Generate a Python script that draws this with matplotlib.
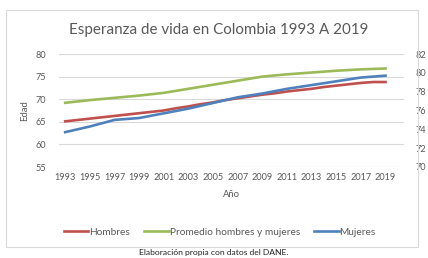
import numpy as np
import matplotlib
matplotlib.use('Agg')
import matplotlib.pyplot as plt
from matplotlib.patches import Rectangle

# DATOS
anios = list(range(1993, 2020))
hombres = [65.1, 65.4, 65.7, 66.0, 66.3, 66.6, 66.9, 67.2, 67.5, 68.0,
           68.4, 68.9, 69.3, 69.8, 70.2, 70.6, 71.0, 71.3, 71.7, 72.0,
           72.3, 72.7, 73.0, 73.3, 73.6, 73.8, 73.8]
promedio = [69.2, 69.5, 69.8, 70.05, 70.3, 70.55, 70.8, 71.1, 71.4, 71.85,
            72.3, 72.75, 73.2, 73.65, 74.1, 74.55, 75.0, 75.25, 75.5, 75.7,
            75.9, 76.1, 76.3, 76.45, 76.6, 76.7, 76.8]
mujeres = [73.7, 74.0, 74.3, 74.65, 75.0, 75.1, 75.2, 75.45, 75.7, 75.95,
           76.2, 76.5, 76.8, 77.1, 77.4, 77.6, 77.8, 78.05, 78.3, 78.5,
           78.7, 78.9, 79.1, 79.3, 79.5, 79.6, 79.7]
ticks_x = anios[::2]

ROJO = '#C0504D'
VERDE = '#9BBB59'
AZUL = '#4F81BD'
GRIS = '#595959'

plt.rcParams['font.family'] = ['Lato', 'DejaVu Sans']

fig = plt.figure(figsize=(4.28, 2.58), dpi=100)
W, H = 428, 258

# marco del grafico
fig.patches.append(Rectangle((6 / W, 1 - 247 / H), 412 / W, 237 / H,
                             transform=fig.transFigure, fill=False,
                             edgecolor='#D9D9D9', lw=0.8))

ax = fig.add_axes([59 / W, 1 - 167 / H, 345 / W, 113 / H])
ax2 = ax.twinx()

l1, = ax.plot(anios, hombres, color=ROJO, lw=1.9, label='Hombres')
l2, = ax.plot(anios, promedio, color=VERDE, lw=1.9, label='Promedio hombres y mujeres')
l3, = ax2.plot(anios, mujeres, color=AZUL, lw=1.9, label='Mujeres')

ax.set_xlim(1992.5, 2020.5)
ax.set_ylim(55, 80)
ax.set_yticks([55, 60, 65, 70, 75, 80])
ax2.set_ylim(70, 82)
ax2.set_yticks([70, 72, 74, 76, 78, 80, 82])
ax.set_xticks(ticks_x)
ax.set_xticklabels([str(a) for a in ticks_x])

ax.grid(axis='y', color='#D9D9D9', lw=0.8)
ax.set_axisbelow(True)
for a in (ax, ax2):
    for s in a.spines.values():
        s.set_visible(False)
    a.tick_params(length=0, labelsize=6.6, labelcolor=GRIS)
ax.tick_params(axis='y', pad=9)
ax2.tick_params(axis='y', pad=8)
ax.tick_params(axis='x', pad=4)

ax.set_ylabel('Edad', fontsize=6.8, color=GRIS, labelpad=5)
ax.set_xlabel('Año', fontsize=6.8, color=GRIS, labelpad=6)

fig.text(219 / W, 1 - 30 / H, 'Esperanza de vida en Colombia 1993 A 2019',
         ha='center', va='center', fontsize=10.9, color=GRIS)

fig.legend(handles=[l1, l2, l3], loc='center', bbox_to_anchor=(220 / W, 1 - 232 / H),
           ncol=3, frameon=False, fontsize=7.3, handlelength=2.4,
           handletextpad=0.1, columnspacing=1.4, labelcolor=GRIS)

fig.text(214 / W, 1 - 253 / H, 'Elaboración propia con datos del DANE.',
         ha='center', va='center', fontsize=6.1, color='#222222')

fig.savefig('out.png', dpi=100)
